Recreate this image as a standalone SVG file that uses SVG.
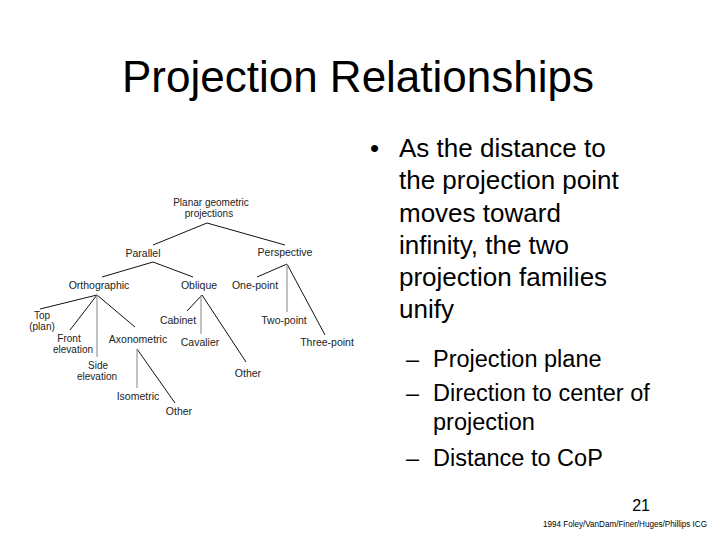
<svg xmlns="http://www.w3.org/2000/svg" width="720" height="540" viewBox="0 0 720 540">
<style>
text{font-family:"Liberation Sans",Arial,sans-serif;fill:#000}
.t{font-size:10.5px;fill:#222;text-anchor:middle}
.m{font-size:10px}
.b{font-size:26px}
.s{font-size:23.5px}
.e{stroke:#111;stroke-width:1;fill:none}
.g{stroke:#999;stroke-width:1.2;fill:none}
</style>
<rect width="720" height="540" fill="#fff"/>
<text x="358" y="92" font-size="44" text-anchor="middle">Projection Relationships</text>
<g id="connectors">
<path class="e" d="M207,223L153,245M207,223L285,245"/>
<path class="e" d="M153,262L102,277M153,262L193,277"/>
<path class="e" d="M287,264L257,277M287,264L325,335"/>
<path class="g" d="M287,264V312"/>
<path class="e" d="M97,295L40,309M97,295L70,330M97,295L135,327"/>
<path class="g" d="M97,295V357"/>
<path class="e" d="M137,349L175,403"/>
<path class="g" d="M137,349V388"/>
<path class="e" d="M202,295L187,311M202,295L246,362"/>
<path class="g" d="M201,295V334"/>
</g>
<g id="planar"><text class="t m" x="211" y="206">Planar geometric<tspan x="209" dy="11.4">projections</tspan></text></g>
<g id="parallel"><text class="t" x="143" y="257">Parallel</text></g>
<g id="perspective"><text class="t" x="285" y="256">Perspective</text></g>
<g id="orthographic"><text class="t" x="99" y="289">Orthographic</text></g>
<g id="oblique"><text class="t" x="199" y="289">Oblique</text></g>
<g id="onepoint"><text class="t" x="255" y="289">One-point</text></g>
<g id="twopoint"><text class="t" x="284" y="324">Two-point</text></g>
<g id="threepoint"><text class="t" x="327" y="346">Three-point</text></g>
<g id="top"><text class="t m" x="42" y="319">Top<tspan x="42" dy="11.4">(plan)</tspan></text></g>
<g id="front"><text class="t m" x="69" y="342">Front<tspan x="73" dy="11.4">elevation</tspan></text></g>
<g id="side"><text class="t m" x="98" y="369">Side<tspan x="97" dy="11.4">elevation</tspan></text></g>
<g id="axonometric"><text class="t" x="138" y="343">Axonometric</text></g>
<g id="isometric"><text class="t" x="138" y="400">Isometric</text></g>
<g id="other1"><text class="t" x="179" y="415">Other</text></g>
<g id="cabinet"><text class="t" x="178" y="324">Cabinet</text></g>
<g id="cavalier"><text class="t" x="200" y="346">Cavalier</text></g>
<g id="other2"><text class="t" x="248" y="377">Other</text></g>
<g id="bullets">
<text class="b" x="370" y="157">•</text>
<text class="b" x="399" y="157">As the distance to</text>
<text class="b" x="399" y="189">the projection point</text>
<text class="b" x="399" y="222">moves toward</text>
<text class="b" x="399" y="254">infinity, the two</text>
<text class="b" x="399" y="286">projection families</text>
<text class="b" x="399" y="318">unify</text>
<text class="s" x="406" y="367">–</text>
<text class="s" x="433" y="367">Projection plane</text>
<text class="s" x="406" y="401">–</text>
<text class="s" x="433" y="401">Direction to center of</text>
<text class="s" x="433" y="430">projection</text>
<text class="s" x="406" y="466">–</text>
<text class="s" x="433" y="466">Distance to CoP</text>
</g>
<text x="650" y="511" font-size="16" text-anchor="end">21</text>
<text x="543" y="527" font-size="8.5" textLength="164" lengthAdjust="spacingAndGlyphs">1994 Foley/VanDam/Finer/Huges/Phillips ICG</text>
</svg>
